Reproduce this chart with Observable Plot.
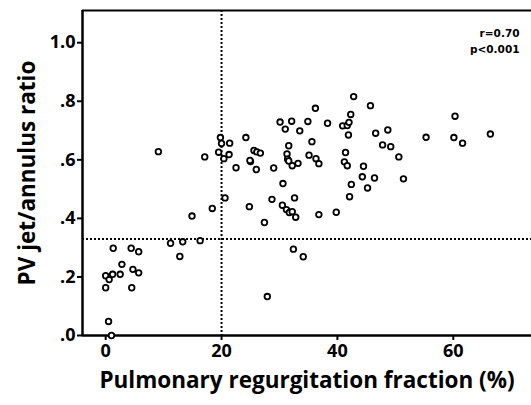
<!DOCTYPE html>
<html>
<head>
<meta charset="utf-8">
<script src="https://cdn.jsdelivr.net/npm/d3@7"></script>
<script src="https://cdn.jsdelivr.net/npm/@observablehq/plot@0.6"></script>
<style>
  html, body { margin: 0; padding: 0; background: #fff; }
</style>
</head>
<body>
<div id="chart"></div>
<script>
// Pulmonary regurgitation fraction (%)
const prf = [
  20.6, 18.4, 14.9, 1.3, 4.4, 5.7, 11.2, 13.3, 16.3, 12.8,
  2.8, 0.0, 1.2, 2.5, 0.6, 4.7, 5.7, 0.0, 4.5, 0.5,
  1.0, 9.1, 17.1, 19.8, 20.0, 21.4, 19.5, 21.3, 20.4, 22.5,
  42.8, 45.7, 36.2, 42.3, 30.1, 32.1, 34.9, 31.0, 33.5, 38.3,
  40.9, 41.7, 42.0, 41.9, 46.6, 48.7, 47.8, 49.2, 24.2, 25.6,
  26.1, 26.7, 31.6, 35.6, 31.3, 31.4, 31.6, 32.2, 33.2, 35.1,
  36.3, 36.8, 41.4, 41.2, 41.7, 25.0, 26.0, 29.0, 44.5, 44.3,
  46.4, 45.2, 42.4, 42.1, 30.6, 28.7, 32.6, 24.8, 30.5, 31.2,
  31.7, 32.2, 32.8, 36.8, 39.8, 27.4, 32.4, 34.1, 27.9, 60.3,
  55.3, 60.1, 61.6, 66.4, 50.6, 51.4, 24.9
];
// PV jet / annulus ratio
const ratio = [
  0.470, 0.434, 0.408, 0.298, 0.298, 0.286, 0.315, 0.320, 0.324, 0.270,
  0.243, 0.204, 0.209, 0.209, 0.191, 0.226, 0.214, 0.163, 0.163, 0.048,
  0.000, 0.628, 0.610, 0.676, 0.656, 0.657, 0.626, 0.618, 0.604, 0.573,
  0.816, 0.785, 0.776, 0.755, 0.729, 0.732, 0.731, 0.705, 0.699, 0.725,
  0.716, 0.717, 0.728, 0.685, 0.691, 0.702, 0.651, 0.645, 0.676, 0.632,
  0.627, 0.623, 0.648, 0.662, 0.620, 0.602, 0.596, 0.580, 0.588, 0.616,
  0.604, 0.587, 0.625, 0.593, 0.580, 0.594, 0.567, 0.572, 0.578, 0.542,
  0.538, 0.504, 0.516, 0.474, 0.519, 0.465, 0.470, 0.440, 0.445, 0.430,
  0.420, 0.423, 0.404, 0.413, 0.421, 0.386, 0.295, 0.269, 0.133, 0.749,
  0.677, 0.676, 0.657, 0.688, 0.610, 0.535, 0.598
];

const xDomain = [-4, 73.5];
const yDomain = [0, 1.11];
const xTicks = [0, 20, 40, 60];
const xTickLabels = ["0", "20", "40", "60"];
const yTicks = [0, 0.2, 0.4, 0.6, 0.8, 1.0];
const yTickLabels = [".0", ".2", ".4", ".6", ".8", "1.0"];
const xCutoff = [20];
const yCutoff = [0.33];
const xTitle = "Pulmonary regurgitation fraction (%)";
const yTitle = "PV jet/annulus ratio";
const statR = "r=0.70";
const statP = "p<0.001";

const points = prf.map((x, i) => ({x, y: ratio[i]}));
const titleFont = "'Open Sans', sans-serif";
const statFont = "'DejaVu Sans', sans-serif";

const chart = Plot.plot({
  width: 531,
  height: 405,
  marginLeft: 82,
  marginRight: 0,
  marginTop: 10,
  marginBottom: 70,
  style: {fontFamily: titleFont, fontWeight: "bold", fontSize: "18px", color: "#000", background: "#fff"},
  x: {domain: xDomain},
  y: {domain: yDomain},
  marks: [
    Plot.ruleX(xCutoff, {stroke: "#000", strokeWidth: 2, strokeDasharray: "2,2"}),
    Plot.ruleY(yCutoff, {stroke: "#000", strokeWidth: 2, strokeDasharray: "2,2"}),
    Plot.ruleY([yDomain[1]], {stroke: "#000", strokeWidth: 2}),
    Plot.ruleY([yDomain[0]], {stroke: "#000", strokeWidth: 2.5}),
    Plot.ruleX([xDomain[0]], {stroke: "#000", strokeWidth: 2.5}),
    Plot.axisX({
      ticks: xTicks,
      tickFormat: d => xTickLabels[xTicks.indexOf(d)],
      tickSize: 5, tickPadding: 4, strokeWidth: 2, label: null,
      fontSize: 18, fontWeight: "bold"
    }),
    Plot.axisY({
      ticks: yTicks,
      tickFormat: d => yTickLabels[yTicks.findIndex(t => Math.abs(t - d) < 1e-9)],
      tickSize: 5, tickPadding: 2, strokeWidth: 2, label: null,
      fontSize: 18, fontWeight: "bold"
    }),
    Plot.dot(points, {x: "x", y: "y", r: 2.8, stroke: "#000", strokeWidth: 1.8, fill: "#fff"}),
    Plot.text([xTitle], {frameAnchor: "bottom", dy: 52, textAnchor: "middle", fontSize: 22.5, fontWeight: "bold", fontFamily: titleFont}),
    Plot.text([yTitle], {frameAnchor: "left", dx: -55, textAnchor: "middle", rotate: -90, fontSize: 22.5, fontWeight: "bold", fontFamily: titleFont}),
    Plot.text([statR], {frameAnchor: "top-right", dx: -12, dy: 19, textAnchor: "end",
      fontSize: 10.5, fontWeight: "bold", fontFamily: statFont}),
    Plot.text([statP], {frameAnchor: "top-right", dx: -12, dy: 35, textAnchor: "end",
      fontSize: 10.5, fontWeight: "bold", fontFamily: statFont})
  ]
});
document.getElementById("chart").appendChild(chart);
</script>
</body>
</html>
